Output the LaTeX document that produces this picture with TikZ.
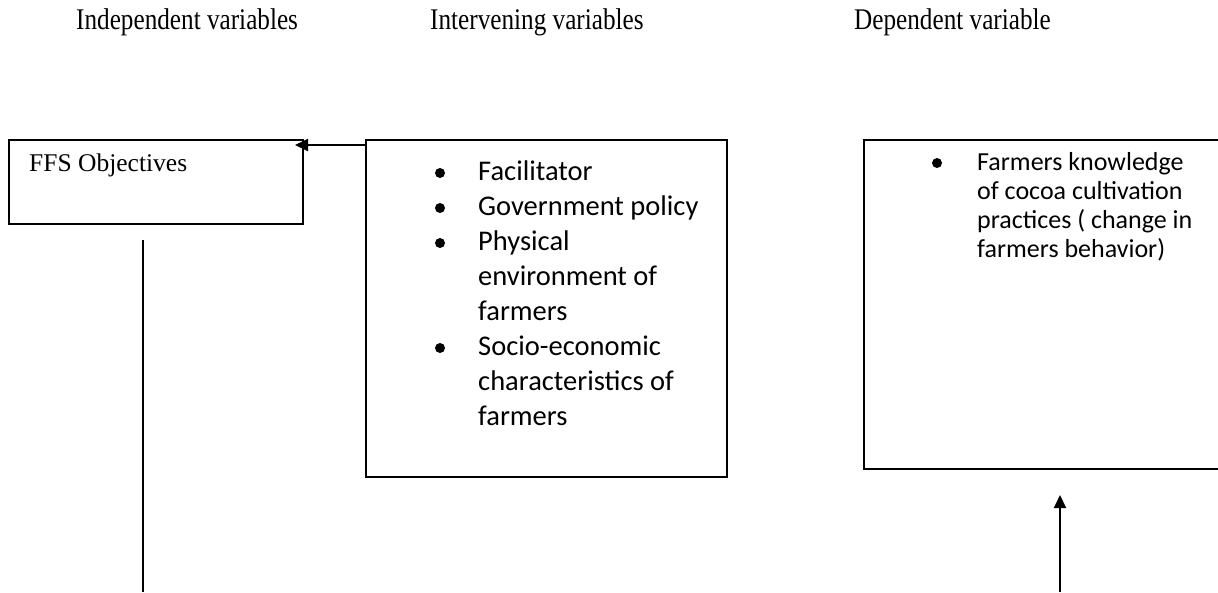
\documentclass[tikz,border=0pt]{standalone}
\usepackage{fontspec}
\setmainfont{Liberation Serif}
\newfontfamily\calibri{Carlito}
\usetikzlibrary{arrows.meta}
\begin{document}
\begin{tikzpicture}[x=1pt,y=-1pt,
  box/.style={draw, line width=2pt, rectangle, inner sep=0pt, anchor=north west},
  head/.style={anchor=base west, inner sep=0pt, font=\fontsize{30}{36}\selectfont},
  midtxt/.style={anchor=base west, inner sep=0pt, font=\calibri\fontsize{28.5}{35}\selectfont},
  deptxt/.style={anchor=base west, inner sep=0pt, font=\calibri\fontsize{26}{29}\selectfont},
  dot/.style={circle, fill=black, inner sep=0pt, minimum size=10pt},
  conn/.style={line width=2pt},
  arr/.style={line width=2pt, -{Triangle[length=13pt,width=12pt]}}
]
\useasboundingbox (0,0) rectangle (1218,592);
\clip (0,0) rectangle (1218,592);
\fill[white] (0,0) rectangle (1218,592);

% headings
\node[head] (h1) at (76,29) {\scalebox{0.84}[1]{Independent variables}};
\node[head] (h2) at (430,29) {\scalebox{0.84}[1]{Intervening variables}};
\node[head] (h3) at (854,29) {\scalebox{0.84}[1]{Dependent variable}};

% boxes
\node[box, minimum width=294pt, minimum height=84pt] (ffs) at (8,139) {};
\node[box, minimum width=361pt, minimum height=337pt] (mid) at (365,139) {};
\node[box, minimum width=380pt, minimum height=329pt] (dep) at (863,139) {};

% left box text
\node[anchor=base west, inner sep=0pt, font=\fontsize{25.5}{30}\selectfont] (ffst) at (29,171) {FFS Objectives};

% middle box text
\node[dot] (m1) at (440,173) {};
\node[midtxt] (t1) at (478,180) {Facilitator};
\node[dot] (m2) at (440,208) {};
\node[midtxt] (t2) at (478,215) {Government policy};
\node[dot] (m3) at (440,243) {};
\node[midtxt] (t3) at (478,250) {Physical};
\node[midtxt] (t4) at (478,285) {environment of};
\node[midtxt] (t5) at (478,320) {farmers};
\node[dot] (m4) at (440,348) {};
\node[midtxt] (t6) at (478,355) {Socio-economic};
\node[midtxt] (t7) at (478,390) {characteristics of};
\node[midtxt] (t8) at (478,425) {farmers};

% right box text
\node[dot] (d1) at (937,163) {};
\node[deptxt] (r1) at (977,170) {Farmers knowledge};
\node[deptxt] (r2) at (977,199) {of cocoa cultivation};
\node[deptxt] (r3) at (977,228) {practices ( change in};
\node[deptxt] (r4) at (977,257) {farmers behavior)};

% connectors
\coordinate (tipL) at ([xshift=-9pt,yshift=-6pt]ffs.north east);
\draw[arr] ([yshift=-6pt]mid.north west) -- (tipL);

\coordinate (vtop) at (143,240);
\coordinate (vbot) at (143,592);
\draw[conn] (vtop) -- (vbot);

\coordinate (rbot) at (1060,592);
\coordinate (rtip) at (1060,495);
\draw[arr] (rbot) -- (rtip);
\end{tikzpicture}
\end{document}
